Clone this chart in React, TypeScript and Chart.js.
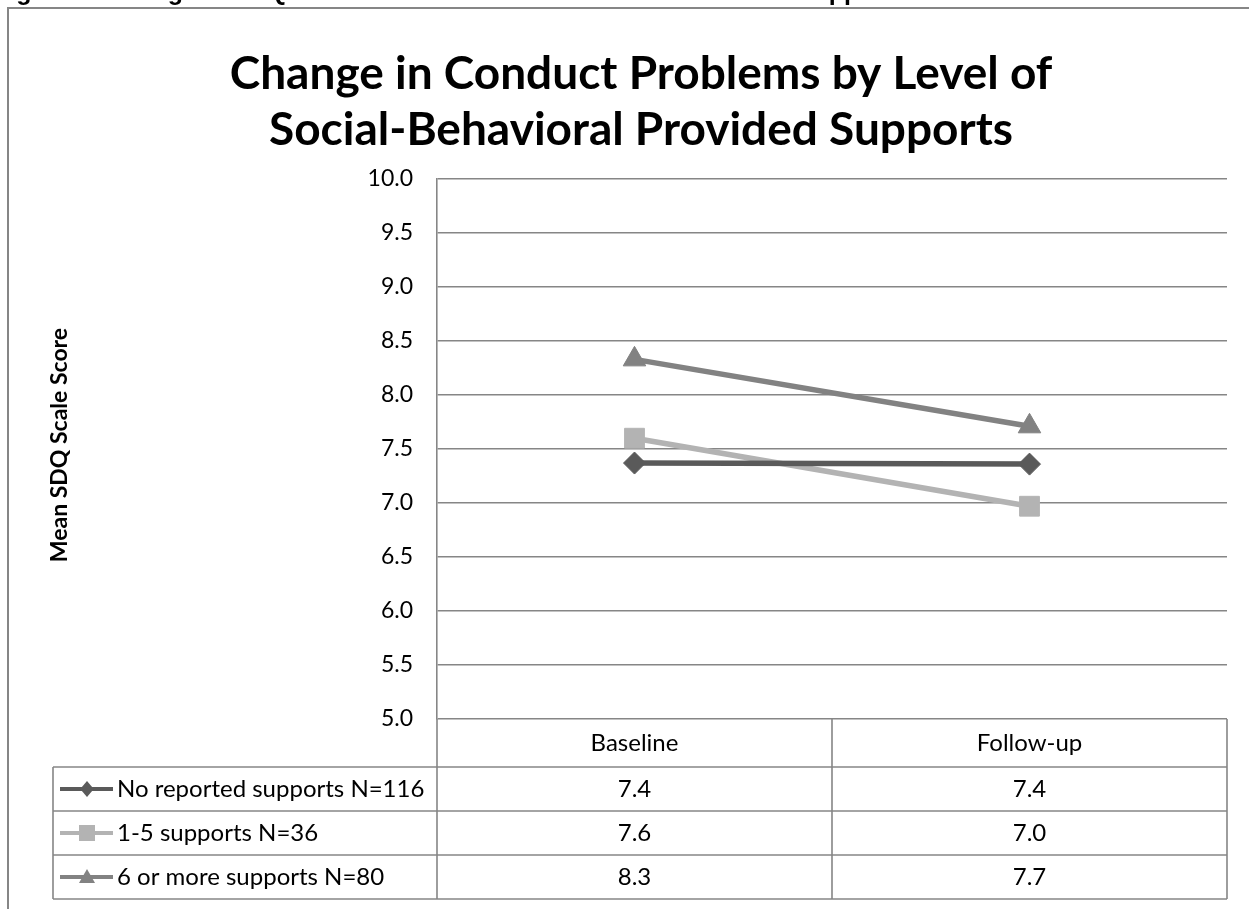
import React, { useEffect, useRef } from "react";
import { Chart, registerables } from "chart.js";

Chart.register(...registerables);

// ---- Data ----
const categories = ["Baseline", "Follow-up"];
const seriesNames = [
  "No reported supports N=116",
  "1-5 supports N=36",
  "6 or more supports N=80",
];
const noSupports = [7.37, 7.36];
const oneToFive = [7.6, 6.97];
const sixOrMore = [8.33, 7.71];
const tableNoSupports = ["7.4", "7.4"];
const tableOneToFive = ["7.6", "7.0"];
const tableSixOrMore = ["8.3", "7.7"];
const yMin = 5;
const yMax = 10;
const yStep = 0.5;
const titleLines = [
  "Change in Conduct Problems by Level of",
  "Social-Behavioral Provided Supports",
];
const yAxisTitle = "Mean SDQ Scale Score";
const captionText =
  "Figure 9. Change in SDQ Conduct Problems with Social-Behavioral Supports";

// ---- Styles ----
const FONT = "Lato, 'Open Sans', sans-serif";
const colors = ["#5a5a5a", "#b3b3b3", "#828282"];
const pointStyles = ["rectRot", "rect", "triangle"] as const;
const pointRadii = [11, 14, 13];
const GRID = "#868686";

function drawMarker(ctx: CanvasRenderingContext2D, style: string, x: number, y: number, r: number, color: string) {
  ctx.save();
  ctx.fillStyle = color;
  ctx.beginPath();
  if (style === "rectRot") {
    ctx.moveTo(x, y - r);
    ctx.lineTo(x + r * 0.85, y);
    ctx.lineTo(x, y + r);
    ctx.lineTo(x - r * 0.85, y);
  } else if (style === "rect") {
    ctx.rect(x - r, y - r, 2 * r, 2 * r);
  } else {
    ctx.moveTo(x, y - r);
    ctx.lineTo(x + r, y + r * 0.75);
    ctx.lineTo(x - r, y + r * 0.75);
  }
  ctx.closePath();
  ctx.fill();
  ctx.restore();
}

const customPlugin = {
  id: "customDecor",
  beforeDraw(chart: any) {
    const ctx: CanvasRenderingContext2D = chart.ctx;
    ctx.save();
    ctx.fillStyle = "#ffffff";
    ctx.fillRect(0, 0, chart.width, chart.height);
    // caption (clipped by the top of the page)
    ctx.fillStyle = "#000";
    ctx.font = `bold 25px 'Liberation Sans', Arial, sans-serif`;
    ctx.textAlign = "left";
    ctx.textBaseline = "alphabetic";
    ctx.fillText(captionText, -6, 0);
    // outer chart border
    ctx.strokeStyle = "#868686";
    ctx.lineWidth = 2;
    ctx.beginPath();
    ctx.moveTo(8, chart.height + 5);
    ctx.lineTo(8, 8);
    ctx.lineTo(chart.width + 5, 8);
    ctx.stroke();
    // title
    ctx.fillStyle = "#000";
    ctx.font = `bold 46px ${FONT}`;
    ctx.textAlign = "center";
    ctx.textBaseline = "middle";
    ctx.fillText(titleLines[0], 641, 74);
    ctx.fillText(titleLines[1], 641, 130);
    // y-axis title
    ctx.save();
    ctx.translate(60, chart.chartArea.top + (chart.chartArea.bottom - chart.chartArea.top) / 2 - 4);
    ctx.rotate(-Math.PI / 2);
    ctx.font = `bold 23px ${FONT}`;
    ctx.fillText(yAxisTitle, 0, 0);
    ctx.restore();
    ctx.restore();
  },
  afterDraw(chart: any) {
    const ctx: CanvasRenderingContext2D = chart.ctx;
    const { chartArea } = chart;
    const xs = chart.scales.x;
    const left = chartArea.left;
    const right = chartArea.right;
    const top = chartArea.bottom;
    const c0 = xs.getPixelForValue(0);
    const c1 = xs.getPixelForValue(1);
    const mid = (c0 + c1) / 2;
    const headerH = 48;
    const rowH = 44;
    const legendLeft = 53;
    const rows = [tableNoSupports, tableOneToFive, tableSixOrMore];
    const bottom = top + headerH + rowH * rows.length;

    ctx.save();
    ctx.strokeStyle = GRID;
    ctx.lineWidth = 1.6;
    ctx.beginPath();
    // verticals
    ctx.moveTo(left, top);
    ctx.lineTo(left, bottom);
    ctx.moveTo(mid, top);
    ctx.lineTo(mid, bottom);
    ctx.moveTo(right, top);
    ctx.lineTo(right, bottom);
    ctx.moveTo(legendLeft, top + headerH);
    ctx.lineTo(legendLeft, bottom);
    // horizontals
    for (let i = 0; i <= rows.length; i++) {
      const yy = top + headerH + rowH * i;
      ctx.moveTo(legendLeft, yy);
      ctx.lineTo(right, yy);
    }
    ctx.stroke();

    ctx.fillStyle = "#000";
    ctx.font = `24px ${FONT}`;
    ctx.textAlign = "center";
    ctx.textBaseline = "middle";
    ctx.fillText(categories[0], c0, top + headerH / 2);
    ctx.fillText(categories[1], c1, top + headerH / 2);
    rows.forEach((vals, i) => {
      const cy = top + headerH + rowH * i + rowH / 2;
      ctx.textAlign = "center";
      ctx.fillStyle = "#000";
      ctx.fillText(vals[0], c0, cy);
      ctx.fillText(vals[1], c1, cy);
      // legend key
      ctx.strokeStyle = colors[i];
      ctx.lineWidth = 4;
      ctx.beginPath();
      ctx.moveTo(60, cy);
      ctx.lineTo(113, cy);
      ctx.stroke();
      drawMarker(ctx, pointStyles[i], 87, cy, 8, colors[i]);
      ctx.fillStyle = "#000";
      ctx.textAlign = "left";
      ctx.fillText(seriesNames[i], 117, cy);
    });
    ctx.restore();
  },
};

export default function App() {
  const canvasRef = useRef<HTMLCanvasElement | null>(null);

  useEffect(() => {
    if (!canvasRef.current) return;
    const data = [noSupports, oneToFive, sixOrMore];
    const chart = new Chart(canvasRef.current, {
      type: "line",
      data: {
        labels: categories,
        datasets: data.map((d, i) => ({
          label: seriesNames[i],
          data: d,
          borderColor: colors[i],
          backgroundColor: colors[i],
          pointBackgroundColor: colors[i],
          pointBorderColor: colors[i],
          borderWidth: 5.5,
          pointStyle: pointStyles[i],
          pointRadius: pointRadii[i],
          pointBorderWidth: 1,
          tension: 0,
        })),
      },
      options: {
        animation: false,
        responsive: false,
        devicePixelRatio: 1,
        events: [],
        layout: { padding: { left: 0, top: 179, right: 22, bottom: 190 } },
        plugins: {
          legend: { display: false },
          title: { display: false },
          tooltip: { enabled: false },
        },
        scales: {
          x: {
            type: "category",
            display: false,
            offset: true,
          },
          y: {
            min: yMin,
            max: yMax,
            afterFit: (s: any) => {
              s.width = 437;
            },
            ticks: {
              stepSize: yStep,
              callback: (v: any) => Number(v).toFixed(1),
              color: "#000",
              font: { family: FONT, size: 23 },
              padding: 24,
            },
            grid: { color: GRID, lineWidth: 1.6, drawTicks: false },
            border: { color: GRID, width: 1.6 },
          },
        },
      },
      plugins: [customPlugin],
    });
    return () => chart.destroy();
  }, []);

  return (
    <div style={{ position: "fixed", left: 0, top: 0, width: 1249, height: 909, background: "#fff" }}>
      <canvas ref={canvasRef} width={1249} height={909} style={{ width: 1249, height: 909, display: "block" }} />
    </div>
  );
}
